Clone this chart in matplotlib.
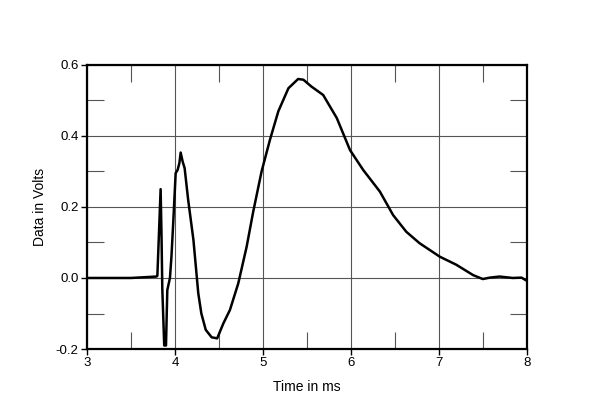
import matplotlib
matplotlib.use("Agg")
import matplotlib.pyplot as plt
from matplotlib.ticker import MultipleLocator

plt.rcParams['font.family'] = ['Liberation Sans', 'DejaVu Sans']

time_ms = [3.0, 3.5, 3.79, 3.80, 3.837, 3.848, 3.856, 3.878, 3.898, 3.913, 3.943,
           3.96, 3.98, 4.008, 4.03, 4.05, 4.065, 4.087, 4.11, 4.15, 4.21, 4.265,
           4.30, 4.35, 4.417, 4.48, 4.55, 4.625, 4.72, 4.815, 4.89, 4.985, 5.08,
           5.175, 5.29, 5.40, 5.46, 5.55, 5.685, 5.84, 5.99, 6.14, 6.33, 6.48,
           6.63, 6.78, 7.01, 7.20, 7.39, 7.50, 7.58, 7.69, 7.84, 7.94, 8.0]
volts = [0.0, 0.0, 0.004, 0.006, 0.25, 0.107, -0.03, -0.19, -0.19, -0.034, 0.0,
         0.06, 0.154, 0.295, 0.304, 0.323, 0.353, 0.328, 0.309, 0.22, 0.107, -0.043,
         -0.10, -0.146, -0.167, -0.17, -0.128, -0.09, -0.015, 0.088, 0.187, 0.30, 0.389,
         0.469, 0.534, 0.56, 0.558, 0.539, 0.515, 0.45, 0.36, 0.304, 0.243, 0.177,
         0.13, 0.098, 0.06, 0.037, 0.008, -0.003, 0.001, 0.004, 0.0, 0.001, -0.008]

x_ticks = [3, 4, 5, 6, 7, 8]
y_ticks = [-0.2, 0.0, 0.2, 0.4, 0.6]
y_tick_labels = ['-0.2', '0.0', '0.2', '0.4', '0.6']

fig = plt.figure(figsize=(6.0, 4.18), dpi=100)
ax = fig.add_axes([0.145, 0.165, 0.733, 0.68])

ax.plot(time_ms, volts, color='black', linewidth=1.8, solid_joinstyle='round', zorder=3)

ax.set_xlim(3, 8)
ax.set_ylim(-0.2, 0.6)
ax.set_xticks(x_ticks)
ax.set_xticklabels([str(t) for t in x_ticks])
ax.set_yticks(y_ticks)
ax.set_yticklabels(y_tick_labels)
ax.xaxis.set_minor_locator(MultipleLocator(0.5))
ax.yaxis.set_minor_locator(MultipleLocator(0.1))

ax.grid(True, which='major', color='#555555', linewidth=0.8)
ax.tick_params(which='major', direction='out', length=4, width=1, labelsize=9.5, pad=2,
               colors='black')
ax.tick_params(which='minor', direction='in', length=12, width=0.8, color='#555555',
               top=True, right=True, bottom=True, left=True)
for s in ax.spines.values():
    s.set_linewidth(1.6)

ax.set_xlabel('Time in ms', fontsize=10, labelpad=8)
ax.set_ylabel('Data in Volts', fontsize=10, labelpad=6)

fig.savefig('out.png', dpi=100)
